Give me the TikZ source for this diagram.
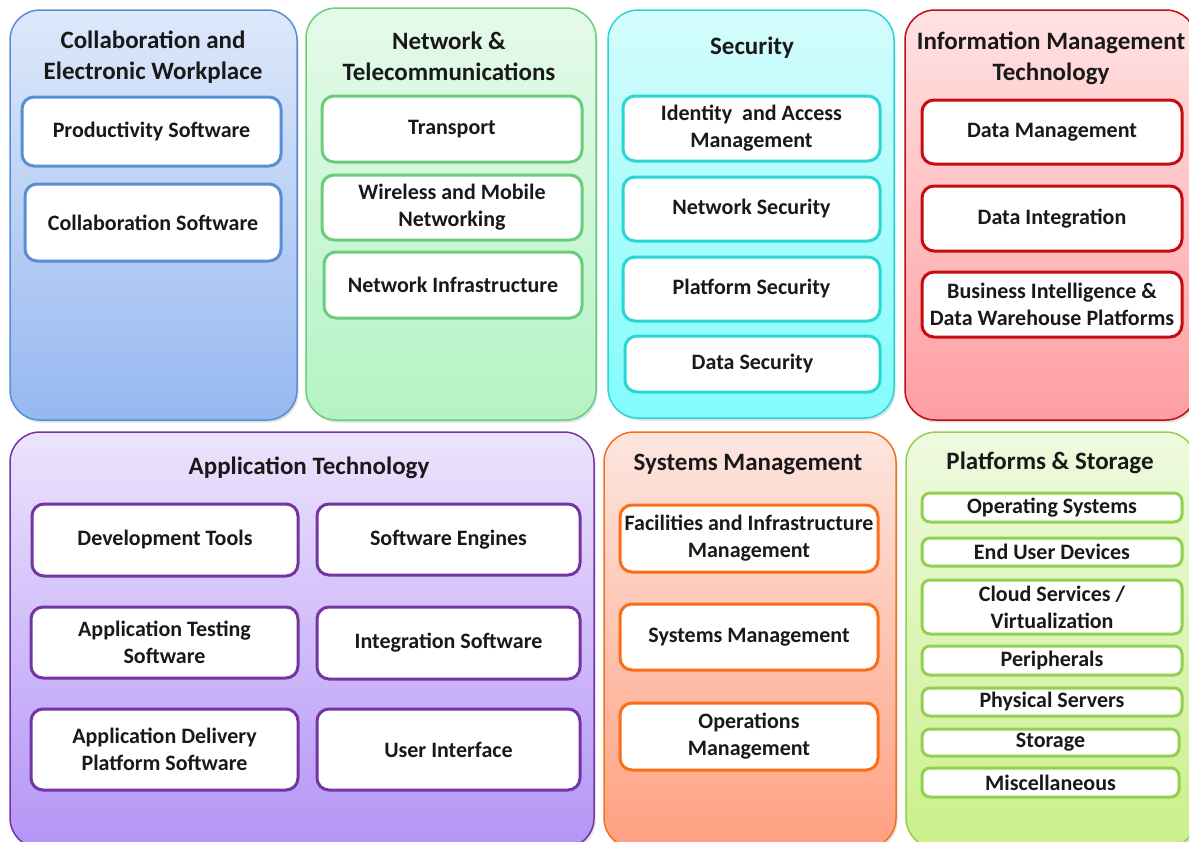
\documentclass[tikz,border=0pt]{standalone}
\usepackage{fontspec}
\setmainfont{Carlito}
\usetikzlibrary{shadows}

\definecolor{blueline}{RGB}{88,142,214}
\definecolor{bluetop}{RGB}{222,232,251}
\definecolor{bluebot}{RGB}{150,184,240}
\definecolor{greenline}{RGB}{104,206,124}
\definecolor{greentop}{RGB}{229,250,233}
\definecolor{greenbot}{RGB}{180,243,196}
\definecolor{cyanline}{RGB}{40,214,214}
\definecolor{cyantop}{RGB}{214,252,252}
\definecolor{cyanbot}{RGB}{130,252,252}
\definecolor{redline}{RGB}{196,12,16}
\definecolor{redtop}{RGB}{255,226,226}
\definecolor{redbot}{RGB}{255,158,162}
\definecolor{purpleline}{RGB}{116,52,164}
\definecolor{purpletop}{RGB}{236,228,252}
\definecolor{purplebot}{RGB}{180,148,246}
\definecolor{orangeline}{RGB}{250,110,24}
\definecolor{orangetop}{RGB}{253,230,224}
\definecolor{orangebot}{RGB}{255,160,128}
\definecolor{limeline}{RGB}{146,208,80}
\definecolor{limetop}{RGB}{239,250,224}
\definecolor{limebot}{RGB}{202,240,138}

\begin{document}
\begin{tikzpicture}[x=1pt,y=-1pt,
    wh/.style 2 args={minimum width=#1pt,minimum height=#2pt},
    panel/.style={rectangle,rounded corners=30pt,line width=1.5pt,inner sep=0pt,
        drop shadow={opacity=0.25,shadow xshift=1.5pt,shadow yshift=-2.5pt}},
    entry/.style={rectangle,rounded corners=12pt,line width=3pt,fill=white,inner sep=0pt,
        align=center,text=black!90,font=\bfseries\fontsize{22}{27}\selectfont},
    slim entry/.style={entry,rounded corners=8pt,draw=limeline},
    head/.style={align=center,text=black!90,font=\bfseries\fontsize{25}{31}\selectfont},
    blue panel/.style={panel,draw=blueline,top color=bluetop,bottom color=bluebot},
    green panel/.style={panel,draw=greenline,top color=greentop,bottom color=greenbot},
    cyan panel/.style={panel,draw=cyanline,top color=cyantop,bottom color=cyanbot},
    red panel/.style={panel,draw=redline,top color=redtop,bottom color=redbot},
    purple panel/.style={panel,draw=purpleline,top color=purpletop,bottom color=purplebot},
    orange panel/.style={panel,draw=orangeline,top color=orangetop,bottom color=orangebot},
    lime panel/.style={panel,draw=limeline,top color=limetop,bottom color=limebot}]
    \useasboundingbox (0,0) rectangle (1189,841);

    % top row
    \node[blue panel,wh={287}{410}] (collab) at (153.5,215) {};
    \node[green panel,wh={290}{412}] (net) at (451,214) {};
    \node[cyan panel,wh={286}{408}] (sec) at (751,214) {};
    \node[red panel,wh={291}{410}] (info) at (1050.5,215) {};

    % bottom row
    \node[purple panel,wh={584}{416}] (app) at (302,640) {};
    \node[orange panel,wh={292}{416}] (sys) at (750,640) {};
    \node[lime panel,wh={290}{416}] (plat) at (1051,640) {};

    \node[head] (collab head) at (153,57) {Collaboration and\\Electronic Workplace};
    \node[head] (net head) at (449,56) {Network \&\\Telecommunications};
    \node[head] (sec head) at (752,48) {Security};
    \node[head] (info head) at (1051,58) {Information Management\\Technology};
    \node[head] (app head) at (309,468) {Application Technology};
    \node[head] (sys head) at (748,464) {Systems Management};
    \node[head] (plat head) at (1050,463) {Platforms \& Storage};

    \node[entry,draw=blueline,wh={259}{69}] (c1) at (151.5,131.5) {Productivity Software};
    \node[entry,draw=blueline,wh={256}{77}] (c2) at (153,222.5) {Collaboration Software};

    \node[entry,draw=greenline,wh={260}{66}] (n1) at (452,129) {Transport};
    \node[entry,draw=greenline,wh={260}{65}] (n2) at (452,207.5) {Wireless and Mobile\\Networking};
    \node[entry,draw=greenline,wh={258}{66}] (n3) at (453,285) {Network Infrastructure};

    \node[entry,draw=cyanline,wh={257}{65}] (s1) at (751.5,128.5) {Identity\ \ and Access\\Management};
    \node[entry,draw=cyanline,wh={257}{64}] (s2) at (751.5,209) {Network Security};
    \node[entry,draw=cyanline,wh={257}{64}] (s3) at (751.5,289) {Platform Security};
    \node[entry,draw=cyanline,wh={255}{56}] (s4) at (752.5,364) {Data Security};

    \node[entry,draw=redline,wh={260}{64}] (i1) at (1052,132) {Data Management};
    \node[entry,draw=redline,wh={260}{65}] (i2) at (1052,218.5) {Data Integration};
    \node[entry,draw=redline,wh={260}{65}] (i3) at (1052,304.5) {Business Intelligence \&\\Data Warehouse Platforms};

    \node[entry,draw=purpleline,wh={266}{72}] (a1) at (165,540) {Development Tools};
    \node[entry,draw=purpleline,wh={263}{71}] (a2) at (448.5,539.5) {Software Engines};
    \node[entry,draw=purpleline,wh={267}{71}] (a3) at (164.5,642.5) {Application Testing\\Software};
    \node[entry,draw=purpleline,wh={263}{72}] (a4) at (448.5,643) {Integration Software};
    \node[entry,draw=purpleline,wh={267}{81}] (a5) at (164.5,749.5) {Application Delivery\\Platform Software};
    \node[entry,draw=purpleline,wh={263}{81}] (a6) at (448.5,749.5) {User Interface};

    \node[entry,draw=orangeline,wh={258}{67}] (m1) at (749,538.5) {Facilities and Infrastructure\\Management};
    \node[entry,draw=orangeline,wh={258}{66}] (m2) at (749,637) {Systems Management};
    \node[entry,draw=orangeline,wh={258}{67}] (m3) at (749,736.5) {Operations\\Management};

    \node[slim entry,wh={260}{29}] (p1) at (1052,507.5) {Operating Systems};
    \node[slim entry,wh={260}{28}] (p2) at (1052,552) {End User Devices};
    \node[slim entry,wh={260}{54}] (p3) at (1052,607) {Cloud Services /\\Virtualization};
    \node[slim entry,wh={260}{29}] (p4) at (1052,660.5) {Peripherals};
    \node[slim entry,wh={260}{28}] (p5) at (1052,702) {Physical Servers};
    \node[slim entry,wh={257}{27}] (p6) at (1050.5,742.5) {Storage};
    \node[slim entry,wh={257}{29}] (p7) at (1050.5,782.5) {Miscellaneous};
\end{tikzpicture}
\end{document}
